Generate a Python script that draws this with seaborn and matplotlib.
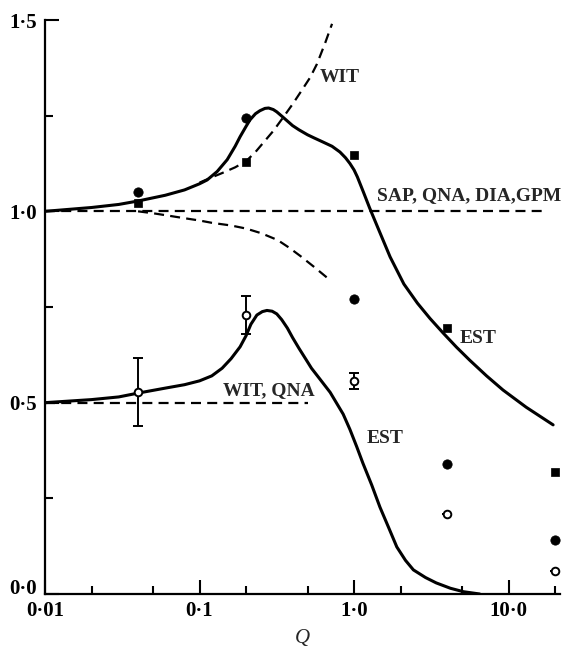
import matplotlib
matplotlib.use("Agg")
import matplotlib.pyplot as plt
from matplotlib.ticker import NullFormatter
import seaborn as sns

# Points
q_pts = [0.04, 0.2, 1.0, 4.0, 20.0]
filled_circle = [1.05, 1.245, 0.77, 0.34, 0.14]
filled_square = [1.022, 1.13, 1.147, 0.695, 0.32]
open_circle = [0.528, 0.73, 0.557, 0.21, 0.06]
open_err = [0.09, 0.05, 0.02, 0.0, 0.0]

# EST curve, upper group
est_up_q = [0.01, 0.02, 0.03, 0.04, 0.06, 0.08, 0.1, 0.112, 0.13, 0.151,
            0.17, 0.183, 0.2, 0.212, 0.23, 0.246, 0.265, 0.28, 0.3, 0.316,
            0.34, 0.37, 0.4, 0.44, 0.5, 0.55, 0.63, 0.72, 0.81, 0.88, 0.94,
            1.0, 1.05, 1.15, 1.26, 1.45, 1.71, 2.1, 2.57, 3.1, 3.77,
            4.6, 5.6, 7.2, 9.2, 13.0, 19.4]
est_up = [1.0, 1.01, 1.018, 1.027, 1.042, 1.056, 1.072, 1.082, 1.104, 1.135,
          1.17, 1.195, 1.222, 1.239, 1.255, 1.263, 1.269, 1.27, 1.266, 1.26,
          1.249, 1.236, 1.224, 1.213, 1.2, 1.192, 1.181, 1.17, 1.155, 1.14, 1.125,
          1.108, 1.09, 1.05, 1.009, 0.95, 0.881, 0.81, 0.76, 0.72, 0.682,
          0.645, 0.611, 0.57, 0.533, 0.488, 0.442]

# WIT dashed curve rising
wit_up_q = [0.1, 0.117, 0.14, 0.17, 0.2, 0.23, 0.257, 0.3, 0.347, 0.4,
            0.46, 0.52, 0.575, 0.65, 0.72]
wit_up = [1.075, 1.087, 1.1, 1.115, 1.131, 1.155, 1.178, 1.21, 1.245, 1.28,
          1.317, 1.35, 1.385, 1.44, 1.49]

# dashed curve falling away from 1.0
wit_dn_q = [0.04, 0.05, 0.06, 0.08, 0.1, 0.12, 0.16, 0.2, 0.25, 0.32,
            0.38, 0.45, 0.55, 0.7]
wit_dn = [1.0, 0.995, 0.99, 0.982, 0.976, 0.97, 0.963, 0.955, 0.943, 0.925,
          0.905, 0.883, 0.855, 0.82]

# EST curve, lower group
est_lo_q = [0.01, 0.02, 0.03, 0.04, 0.06, 0.08, 0.1, 0.12, 0.14, 0.16,
            0.183, 0.2, 0.215, 0.235, 0.255, 0.273, 0.295, 0.316, 0.34, 0.37,
            0.4, 0.44, 0.49, 0.53, 0.6, 0.7, 0.77, 0.85, 0.94, 1.04, 1.14,
            1.3, 1.47, 1.68, 1.89, 2.15, 2.42, 2.9, 3.4, 4.2, 5.1, 6.5]
est_lo = [0.5, 0.508, 0.515, 0.525, 0.538, 0.547, 0.557, 0.57, 0.59, 0.615,
          0.646, 0.675, 0.705, 0.729, 0.738, 0.741, 0.739, 0.732, 0.717, 0.695,
          0.67, 0.642, 0.612, 0.59, 0.562, 0.527, 0.499, 0.47, 0.43, 0.385, 0.342,
          0.285, 0.227, 0.172, 0.123, 0.088, 0.063, 0.043, 0.029, 0.015, 0.006, 0.0]

# flat reference levels
flat_hi_q = [0.01, 17.2]
flat_hi = [1.0, 1.0]
flat_lo_q = [0.01, 0.5]
flat_lo = [0.5, 0.5]

xmaj = [0.01, 0.1, 1.0, 10.0]
xmaj_labels = ["0·01", "0·1", "1·0", "10·0"]
xmin = [0.02, 0.05, 0.2, 0.5, 2.0, 5.0, 20.0]
ymaj = [0.0, 0.5, 1.0, 1.5]
ymaj_labels = ["0·0", "0·5", "1·0", "1·5"]
ymin = [0.25, 0.75, 1.25]

sns.set_theme(style="ticks")
plt.rcParams['font.family'] = ['Liberation Serif', 'DejaVu Serif']
plt.rcParams['font.weight'] = 'bold'

fig = plt.figure(figsize=(5.73, 6.49), dpi=100)
ax = fig.add_axes([45 / 573, 55 / 649, 515 / 573, 574 / 649])
ax.set_xscale('log')

solid = dict(color='black', linewidth=2.2, estimator=None, sort=False)
dash = dict(color='black', linewidth=1.6, estimator=None, sort=False,
            linestyle=(0, (4.5, 2.8)))

sns.lineplot(x=est_up_q, y=est_up, ax=ax, **solid)
sns.lineplot(x=est_lo_q, y=est_lo, ax=ax, **solid)
sns.lineplot(x=wit_up_q, y=wit_up, ax=ax, **dash)
sns.lineplot(x=wit_dn_q, y=wit_dn, ax=ax, **dash)
sns.lineplot(x=flat_hi_q, y=flat_hi, ax=ax, **dash)
sns.lineplot(x=flat_lo_q, y=flat_lo, ax=ax, **dash)

# error bars on open circles
ax.errorbar(q_pts, open_circle, yerr=open_err, fmt='none', ecolor='black',
            elinewidth=1.4, capsize=3.6, capthick=1.4, zorder=3)

sns.scatterplot(x=q_pts, y=filled_circle, ax=ax, marker='o', s=45,
                color='black', edgecolor='black', zorder=4)
sns.scatterplot(x=q_pts, y=filled_square, ax=ax, marker='s', s=40,
                color='black', edgecolor='black', zorder=4)
sns.scatterplot(x=q_pts, y=open_circle, ax=ax, marker='o', s=30,
                facecolor='white', edgecolor='black', linewidth=1.4, zorder=5)

fs = 14
ax.text(0.6, 1.338, "WIT", fontsize=fs)
ax.text(1.41, 1.03, "SAP, QNA, DIA,GPM", fontsize=fs)
ax.text(4.85, 0.656, "EST", fontsize=fs)
ax.text(0.142, 0.52, "WIT, QNA", fontsize=fs)
ax.text(1.21, 0.395, "EST", fontsize=fs)

ax.set_xlim(0.01, 21.5)
ax.set_ylim(0.0, 1.5)
ax.set_xticks(xmaj, xmaj_labels)
ax.set_xticks(xmin, minor=True)
ax.xaxis.set_minor_formatter(NullFormatter())
ax.set_yticks(ymaj, ymaj_labels)
ax.set_yticks(ymin, minor=True)

ax.tick_params(axis='both', which='both', direction='in', width=1.5,
               colors='black', labelsize=15)
ax.tick_params(axis='both', which='major', length=10)
ax.tick_params(axis='both', which='minor', length=6)
ax.tick_params(axis='x', which='major', pad=5)
ax.tick_params(axis='y', which='major', pad=6)
# the 0·0 label sits on the x axis line in the original
ax.yaxis.get_majorticklabels()[0].set_verticalalignment('baseline')

ax.set_xlabel("Q", fontsize=15, style='italic', labelpad=6)
ax.set_ylabel("")

for side in ['top', 'right']:
    ax.spines[side].set_visible(False)
for side in ['left', 'bottom']:
    ax.spines[side].set_linewidth(1.6)
    ax.spines[side].set_color('black')

fig.savefig("out.png", dpi=100)
